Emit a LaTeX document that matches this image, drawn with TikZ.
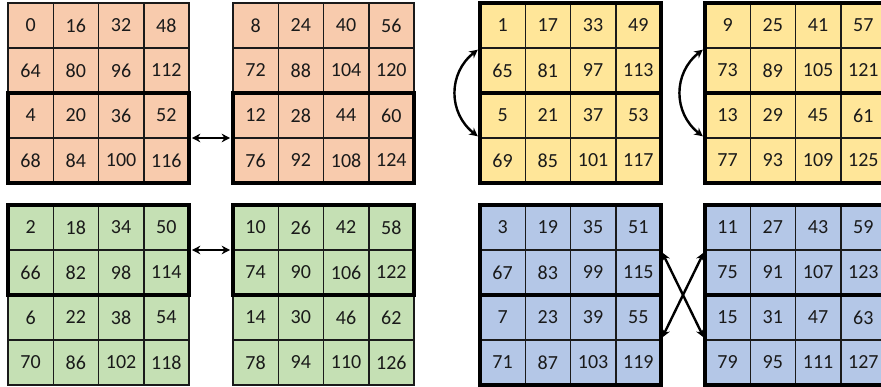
\documentclass[tikz,border=0pt]{standalone}
\usepackage{fontspec}
\setmainfont{Carlito}
\usetikzlibrary{arrows.meta}
\definecolor{cOrange}{HTML}{F8CBAD}
\definecolor{cYellow}{HTML}{FFE699}
\definecolor{cGreen}{HTML}{C5E0B4}
\definecolor{cBlue}{HTML}{B4C7E7}
\definecolor{cLine}{HTML}{1A1A1A}
\begin{document}
\begin{tikzpicture}[x=1pt,y=-1pt,
  cell/.style={draw=cLine, line width=1.5pt, minimum width=45.25pt, minimum height=45pt,
    inner sep=0pt, outer sep=0pt, anchor=north west, text=cLine,
    font=\fontsize{20}{23}\selectfont},
  boldframe/.style={draw=black, line width=4.8pt},
  dblarrow/.style={{Stealth[length=8.5pt,width=8.5pt]}-{Stealth[length=8.5pt,width=8.5pt]},
    line width=2.4pt, black, shorten <=2.8pt, shorten >=2.8pt}]
\clip (0,0) rectangle (881,387);
\fill[white] (0,0) rectangle (881,387);
\foreach \g/\gx/\gy/\base/\col in {1/8/3/0/cOrange, 2/233/3/8/cOrange,
    3/480/3/1/cYellow, 4/705/3/9/cYellow, 5/8/205/2/cGreen, 6/233/205/10/cGreen,
    7/480/205/3/cBlue, 8/705/205/11/cBlue}{
  \foreach \r in {0,...,3}{
    \foreach \c in {0,...,3}{
      \pgfmathtruncatemacro{\v}{\base+16*\c+64*mod(\r,2)+4*int(\r/2)}
      \node[cell, fill=\col] (g\g-\r-\c) at (\gx+45.25*\c, \gy+45*\r) {\v};
    }
  }
}
% orange: bottom halves
\draw[boldframe] (g1-2-0.north west) rectangle (g1-3-3.south east);
\draw[boldframe] (g2-2-0.north west) rectangle (g2-3-3.south east);
% yellow: both halves
\draw[boldframe] (g3-0-0.north west) rectangle (g3-1-3.south east);
\draw[boldframe] (g3-2-0.north west) rectangle (g3-3-3.south east);
\draw[boldframe] (g4-0-0.north west) rectangle (g4-1-3.south east);
\draw[boldframe] (g4-2-0.north west) rectangle (g4-3-3.south east);
% green: top halves
\draw[boldframe] (g5-0-0.north west) rectangle (g5-1-3.south east);
\draw[boldframe] (g6-0-0.north west) rectangle (g6-1-3.south east);
% blue: both halves
\draw[boldframe] (g7-0-0.north west) rectangle (g7-1-3.south east);
\draw[boldframe] (g7-2-0.north west) rectangle (g7-3-3.south east);
\draw[boldframe] (g8-0-0.north west) rectangle (g8-1-3.south east);
\draw[boldframe] (g8-2-0.north west) rectangle (g8-3-3.south east);
% arrows
\draw[dblarrow] (g1-3-3.north east) -- (g2-3-0.north west);
\draw[dblarrow] (g5-1-3.north east) -- (g6-1-0.north west);
\draw[dblarrow] (g3-1-0.north west) .. controls +(-32,25) and +(-32,-25) .. (g3-3-0.north west);
\draw[dblarrow] (g4-1-0.north west) .. controls +(-32,25) and +(-32,-25) .. (g4-3-0.north west);
\draw[dblarrow] (g7-1-3.north east) -- (g8-3-0.north west);
\draw[dblarrow] (g7-3-3.north east) -- (g8-1-0.north west);
\end{tikzpicture}
\end{document}
